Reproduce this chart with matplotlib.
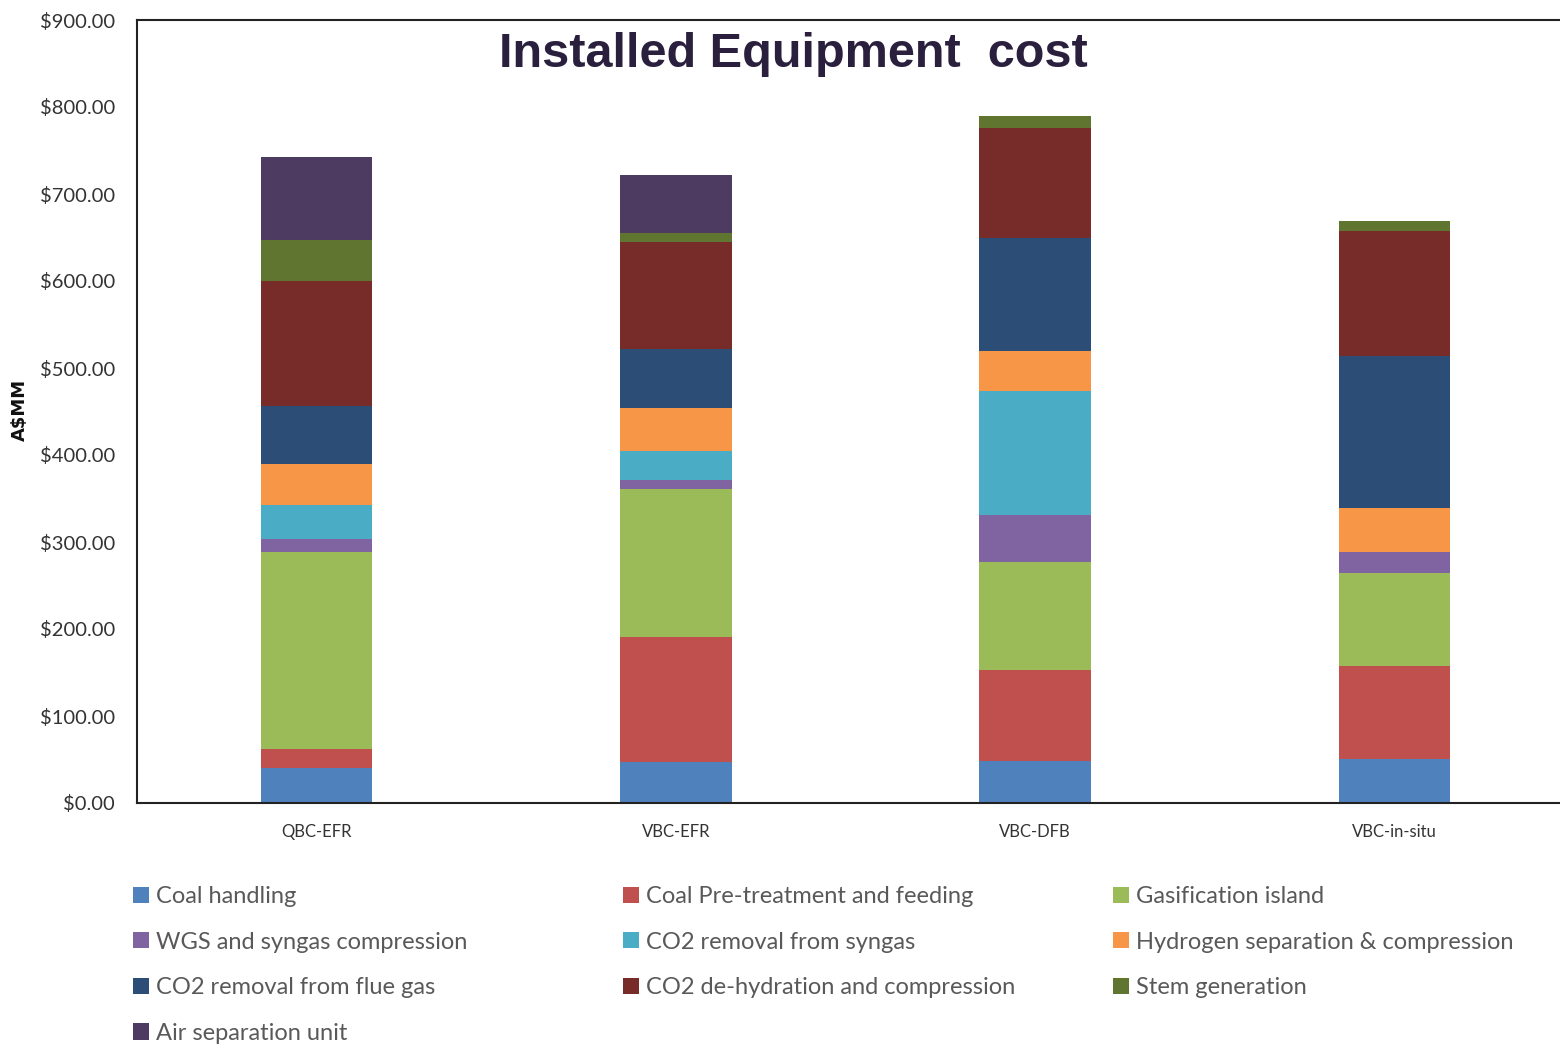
import numpy as np
import matplotlib
matplotlib.use("Agg")
import matplotlib.pyplot as plt
from matplotlib.ticker import FuncFormatter

# cases and installed equipment cost per unit area (A$MM)
cases = ["QBC-EFR", "VBC-EFR", "VBC-DFB", "VBC-in-situ"]

coal_handling = [40, 46.7, 48, 50.6]
coal_pretreat = [22, 144.3, 104.4, 107.4]
gasification = [226, 170.3, 125, 106.8]
wgs_syngas = [15.4, 10, 53.5, 23.5]
co2_syngas = [39, 33.4, 143, 0]
h2_separation = [47, 48.8, 45.6, 51.2]
co2_flue_gas = [66.6, 68.1, 129.5, 174.5]
co2_dehydration = [144, 123.4, 126.8, 143.7]
stem_generation = [47, 10.5, 13.3, 11.5]
air_separation = [96, 66.7, 0, 0]

labels = ["Coal handling", "Coal Pre-treatment and feeding", "Gasification island",
          "WGS and syngas compression", "CO2 removal from syngas",
          "Hydrogen separation & compression", "CO2 removal from flue gas",
          "CO2 de-hydration and compression", "Stem generation", "Air separation unit"]
series = [coal_handling, coal_pretreat, gasification, wgs_syngas, co2_syngas,
          h2_separation, co2_flue_gas, co2_dehydration, stem_generation, air_separation]
colors = ["#4F81BD", "#C0504D", "#9BBB59", "#8064A2", "#4BACC6",
          "#F79646", "#2C4D75", "#772C2A", "#5F7530", "#4D3B62"]

W, H = 1560, 1044
fig = plt.figure(figsize=(W / 100, H / 100), dpi=100)
ax = fig.add_axes([137 / W, 1 - 803 / H, 1437 / W, 783 / H])

x = np.arange(len(cases))
bottom = np.zeros(len(cases))
handles = []
for vals, lab, col in zip(series, labels, colors):
    vals = np.array(vals, dtype=float)
    b = ax.bar(x, vals, 0.31, bottom=bottom, color=col, label=lab, linewidth=0)
    handles.append(b)
    bottom += vals

ax.set_xlim(-0.5, 3.5)
ax.set_ylim(0, 900)
ax.set_yticks(np.arange(0, 901, 100))
ax.yaxis.set_major_formatter(FuncFormatter(lambda v, p: f"${v:,.2f}"))
ax.set_xticks(x)
ax.set_xticklabels(cases)
ax.tick_params(axis="y", length=0, pad=16, labelsize=14.5, labelcolor="#333333")
ax.tick_params(axis="x", length=0, pad=15, labelsize=12, labelcolor="#333333")
for t in ax.get_yticklabels() + ax.get_xticklabels():
    t.set_fontfamily("Lato")
for side in ["left", "top", "bottom"]:
    ax.spines[side].set_linewidth(1.5)
    ax.spines[side].set_color("#222222")
ax.spines["right"].set_visible(False)

fig.text(20 / W, 1 - 410 / H, "A$MM", rotation=90, ha="center", va="center",
         fontsize=13, fontweight="bold", family="DejaVu Sans", color="#111111")

fig.text(793 / W, 1 - 67 / H, "Installed Equipment  cost", ha="center", va="baseline",
         fontsize=35, fontweight="bold", family="Liberation Sans", color="#2a1f3d")

# legend laid out as three columns, filled row by row
col_x = [133, 623, 1113]
for c in range(3):
    idx = list(range(c, len(labels), 3))
    leg = fig.legend([handles[i] for i in idx], [labels[i] for i in idx],
                     loc="upper left", bbox_to_anchor=(col_x[c] / W, 1 - 886 / H),
                     frameon=False, borderpad=0, borderaxespad=0,
                     handlelength=0.68, handleheight=0.68, handletextpad=0.28,
                     labelspacing=1.04, prop={"family": "Lato", "size": 17})
    for t in leg.get_texts():
        t.set_color("#595959")

fig.savefig("out.png", dpi=100)
